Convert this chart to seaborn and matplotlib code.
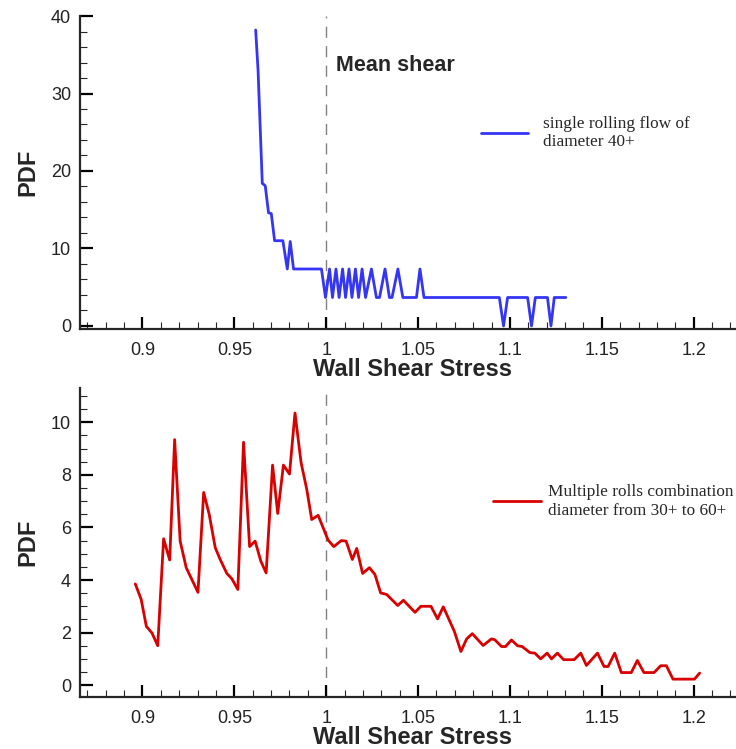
import numpy as np
import pandas as pd
import matplotlib
matplotlib.use("Agg")
import matplotlib.pyplot as plt
from matplotlib.ticker import MultipleLocator, FuncFormatter
import seaborn as sns

# ---------------- data ----------------
single_x = [0.9616, 0.9629, 0.9652, 0.9668, 0.9686, 0.9701, 0.9719, 0.9764, 0.9788, 0.9804,
            0.9822, 0.9974, 0.9996, 1.0018, 1.0034, 1.0053, 1.0070, 1.0089, 1.0105, 1.0124,
            1.0140, 1.0159, 1.0176, 1.0195, 1.0214, 1.0246, 1.0273, 1.0290, 1.0320, 1.0344,
            1.0358, 1.0390, 1.0417, 1.0491, 1.0510, 1.0532, 1.0942, 1.0965, 1.0987, 1.1096,
            1.1117, 1.1138, 1.1204, 1.1223, 1.1241, 1.1304]
single_pdf = [38.2, 33.0, 18.4, 18.1, 14.6, 14.5, 11.0, 11.0, 7.35, 10.9,
              7.35, 7.35, 3.67, 7.35, 3.67, 7.35, 3.67, 7.35, 3.67, 7.35,
              3.67, 7.35, 3.67, 7.35, 3.67, 7.35, 3.67, 3.67, 7.35, 3.67,
              3.67, 7.35, 3.67, 3.67, 7.35, 3.67, 3.67, 0.0, 3.67, 3.67,
              0.0, 3.67, 3.67, 0.0, 3.67, 3.67]

multi_x = [0.8961, 0.8993, 0.9021, 0.9052, 0.9083, 0.9115, 0.9148, 0.9175, 0.9205, 0.9238,
           0.9302, 0.9333, 0.9363, 0.9396, 0.9423, 0.9459, 0.9486, 0.9519, 0.9550, 0.9583,
           0.9613, 0.9644, 0.9673, 0.9708, 0.9736, 0.9767, 0.9800, 0.9830, 0.9863, 0.9894,
           0.9921, 0.9956, 1.0010, 1.0041, 1.0082, 1.0108, 1.0142, 1.0166, 1.0198, 1.0235,
           1.0265, 1.0296, 1.0329, 1.0389, 1.0420, 1.0483, 1.0515, 1.0570, 1.0606, 1.0637,
           1.0697, 1.0733, 1.0764, 1.0795, 1.0854, 1.0899, 1.0917, 1.0954, 1.0976, 1.1008,
           1.1041, 1.1066, 1.1108, 1.1135, 1.1167, 1.1202, 1.1226, 1.1258, 1.1292, 1.1349,
           1.1385, 1.1416, 1.1476, 1.1512, 1.1534, 1.1570, 1.1606, 1.1660, 1.1693, 1.1729,
           1.1784, 1.1820, 1.1851, 1.1887, 1.2004, 1.2032]
multi_pdf = [3.85, 3.26, 2.24, 1.98, 1.50, 5.57, 4.76, 9.34, 5.48, 4.47,
             3.53, 7.33, 6.50, 5.23, 4.78, 4.25, 4.05, 3.64, 9.24, 5.27,
             5.48, 4.72, 4.27, 8.37, 6.53, 8.37, 8.03, 10.35, 8.47, 7.45,
             6.30, 6.46, 5.52, 5.27, 5.50, 5.48, 4.78, 5.20, 4.25, 4.47,
             4.21, 3.51, 3.45, 3.03, 3.23, 2.77, 3.00, 3.00, 2.52, 2.98,
             2.05, 1.28, 1.76, 1.96, 1.51, 1.76, 1.73, 1.47, 1.47, 1.72,
             1.50, 1.47, 1.24, 1.22, 1.00, 1.22, 1.00, 1.22, 0.97, 0.97,
             1.22, 0.75, 1.22, 0.71, 0.71, 1.22, 0.48, 0.48, 0.94, 0.48,
             0.48, 0.74, 0.74, 0.23, 0.23, 0.46]

single_label = "single rolling flow of\ndiameter 40+"
multi_label = "Multiple rolls combination\ndiameter from 30+ to 60+"
mean_shear = 1.0
x_label = "Wall Shear Stress"
y_label = "PDF"
annotation = "Mean shear"

# ---------------- style ----------------
sns.set_style("ticks")
plt.rcParams["font.family"] = ["Liberation Sans", "DejaVu Sans"]
plt.rcParams["axes.linewidth"] = 1.6

fig = plt.figure(figsize=(7.36, 7.49), dpi=100)
ax1 = fig.add_axes([0.1087, 0.5607, 0.8913, 0.4179])
ax2 = fig.add_axes([0.1087, 0.0694, 0.8913, 0.4125])

df1 = pd.DataFrame({"x": single_x, "pdf": single_pdf, "series": single_label})
df2 = pd.DataFrame({"x": multi_x, "pdf": multi_pdf, "series": multi_label})

sns.lineplot(data=df1, x="x", y="pdf", hue="series", palette=["#3535f5"],
             linewidth=2.0, ax=ax1, estimator=None, sort=False)
sns.lineplot(data=df2, x="x", y="pdf", hue="series", palette=["#d80000"],
             linewidth=2.0, ax=ax2, estimator=None, sort=False)

fmt = FuncFormatter(lambda v, p: f"{v:g}")
for ax in (ax1, ax2):
    ax.axvline(mean_shear, color="#808080", lw=1.0, ls=(0, (8, 6)), zorder=0)
    ax.set_xlim(0.866, 1.223)
    ax.xaxis.set_major_locator(MultipleLocator(0.05))
    ax.xaxis.set_minor_locator(MultipleLocator(0.01))
    ax.xaxis.set_major_formatter(fmt)
    ax.tick_params(axis="both", which="major", direction="in", length=9, width=1.6,
                   labelsize=13, colors="black", labelcolor="#222222")
    ax.tick_params(axis="x", which="major", pad=9)
    ax.tick_params(axis="y", which="major", pad=6.5)
    ax.tick_params(axis="both", which="minor", direction="in", length=5, width=0.8)
    sns.despine(ax=ax)
    ax.set_xlabel(x_label, fontsize=17, fontweight="bold")
    ax.set_ylabel(y_label, fontsize=17, fontweight="bold")
    ax.yaxis.set_label_coords(-0.0625, 0.5)
    ax.grid(False)

ax1.xaxis.set_label_coords(0.507, -0.093)
ax2.xaxis.set_label_coords(0.507, -0.095)

ax1.set_ylim(-0.4, 40)
ax1.yaxis.set_major_locator(MultipleLocator(10))
ax1.yaxis.set_minor_locator(MultipleLocator(2))
ax2.set_ylim(-0.45, 11.3)
ax2.yaxis.set_major_locator(MultipleLocator(2))
ax2.yaxis.set_minor_locator(MultipleLocator(0.5))

ax1.text(1.0052, 33.6, annotation, fontsize=15.5, fontweight="bold", va="center", ha="left")

serif = ["Liberation Serif", "DejaVu Serif"]
leg1 = ax1.legend(loc="center left", bbox_to_anchor=(0.5877, 0.626), frameon=False,
                  handlelength=2.73, handletextpad=0.87, prop={"family": serif, "size": 12.4})
leg2 = ax2.legend(loc="center left", bbox_to_anchor=(0.606, 0.633), frameon=False,
                  handlelength=2.8, handletextpad=0.4, prop={"family": serif, "size": 12.4})

fig.savefig("out.png", dpi=100)
